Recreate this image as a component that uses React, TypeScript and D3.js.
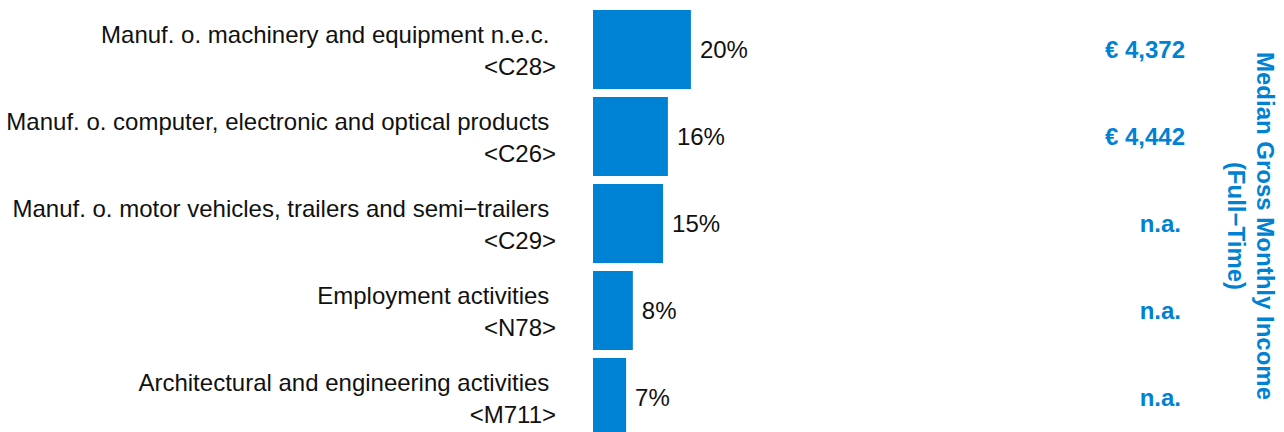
import React from "react"
import * as d3 from "d3"

const categories = [
  "Manuf. o. machinery and equipment n.e.c.",
  "Manuf. o. computer, electronic and optical products",
  "Manuf. o. motor vehicles, trailers and semi\u2212trailers",
  "Employment activities",
  "Architectural and engineering activities",
]
const codes = ["<C28>", "<C26>", "<C29>", "<N78>", "<M711>"]
const shares = [20.4, 15.6, 14.6, 8.3, 6.9]
const incomes = ["\u20ac 4,372", "\u20ac 4,442", "n.a.", "n.a.", "n.a."]
const titleLines = ["Median Gross Monthly Income", "(Full\u2212Time)"]

const W = 1284
const H = 432
const BLUE = "#0082d4"
const FONT = "'Liberation Sans', Arial, sans-serif"

const App: React.FC = () => {
  const y = d3
    .scaleBand<string>()
    .domain(categories)
    .range([6, 441])
    .paddingInner(0.092)
    .paddingOuter(0.046)

  const x = d3.scaleLinear().domain([0, 25]).range([593, 713])

  return (
    <svg
      width={W}
      height={H}
      style={{ position: "absolute", left: 0, top: 0, background: "#fff" }}
      fontFamily={FONT}
    >
      {categories.map((cat, i) => {
        const y0 = y(cat) as number
        const cy = y0 + y.bandwidth() / 2
        return (
          <g key={cat}>
            <rect
              x={x(0)}
              y={y0}
              width={x(shares[i]) - x(0)}
              height={y.bandwidth()}
              fill={BLUE}
            />
            <text
              x={556}
              y={cy - 6.5}
              textAnchor="end"
              fontSize={24}
              fill="#111"
              style={{ whiteSpace: "pre" }}
            >
              {cat + " "}
            </text>
            <text x={556} y={cy + 25} textAnchor="end" fontSize={24} fill="#111">
              {codes[i]}
            </text>
            <text x={x(shares[i]) + 9} y={cy + 8.5} fontSize={24} fill="#111">
              {Math.round(shares[i]) + "%"}
            </text>
            <text
              x={incomes[i] === "n.a." ? 1181 : 1185}
              y={cy + 8.5}
              textAnchor="end"
              fontSize={24}
              fontWeight="bold"
              fill={BLUE}
            >
              {incomes[i]}
            </text>
          </g>
        )
      })}
      <text
        transform="translate(1257,226) rotate(90)"
        textAnchor="middle"
        fontSize={24}
        fontWeight="bold"
        fill={BLUE}
      >
        {titleLines.map((line, i) => (
          <tspan key={line} x={0} dy={i === 0 ? 0 : 29}>
            {line}
          </tspan>
        ))}
      </text>
    </svg>
  )
}

export default App
